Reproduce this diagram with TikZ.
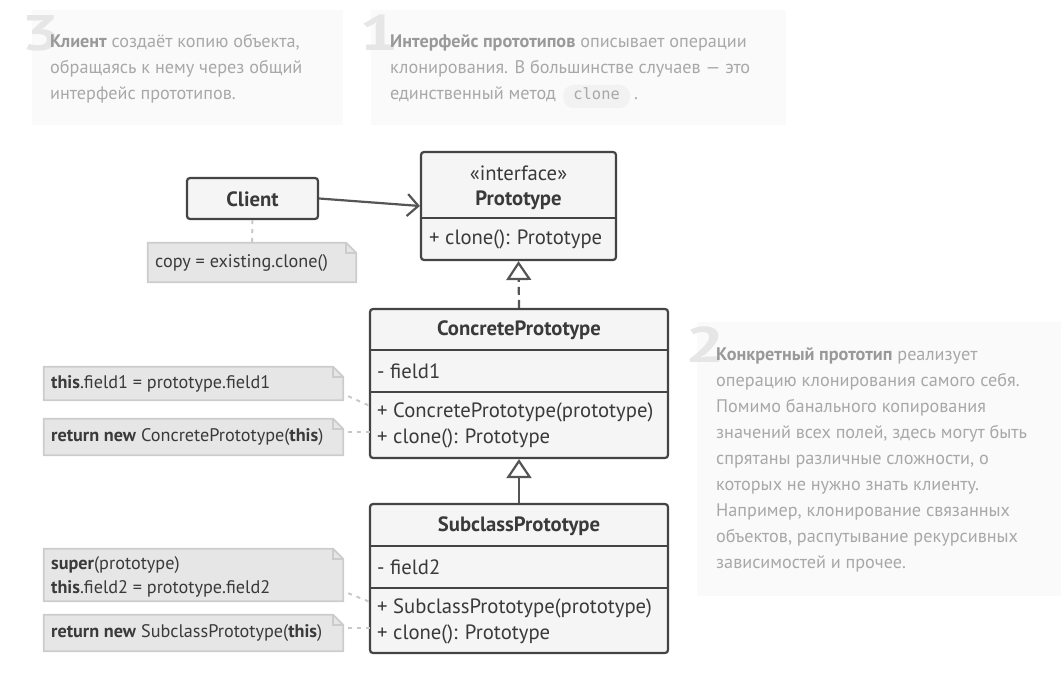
\documentclass[tikz,border=0pt]{standalone}
\usepackage{fontspec}
\setmainfont{PT Sans}
\newfontfamily\monofont{DejaVu Sans Mono}
\usetikzlibrary{arrows.meta,calc}
\definecolor{dk}{HTML}{444444}
\definecolor{txt}{HTML}{3A3A3A}
\definecolor{ln}{HTML}{555555}
\definecolor{boxfill}{HTML}{F5F5F5}
\definecolor{notefill}{HTML}{E6E6E6}
\definecolor{noteline}{HTML}{CCCCCC}
\definecolor{cmtfill}{HTML}{FAFAFA}
\definecolor{cmttext}{HTML}{A8A8A8}
\definecolor{cmtbold}{HTML}{999999}
\definecolor{numcol}{HTML}{E6E6E6}
\definecolor{codebg}{HTML}{F2F2F2}
\definecolor{dots}{HTML}{C8C8C8}
\tikzset{
  umlbox/.style={draw=dk, fill=boxfill, line width=2.2pt, rounded corners=3pt, inner sep=0pt},
  divline/.style={draw=dk, line width=2.2pt},
  umltxt/.style={inner sep=0pt, text=txt, font=\fontsize{20.7}{24}\selectfont},
  umlbold/.style={umltxt, font=\fontsize{20.7}{24}\selectfont\bfseries},
  notebox/.style={fill=notefill, draw=noteline, line width=1.8pt},
  notetxt/.style={inner sep=0pt, text=txt, font=\fontsize{18.2}{24}\selectfont, align=left},
  dotline/.style={draw=dots, line width=2pt, dash pattern=on 4pt off 5pt},
  cmtbox/.style={fill=cmtfill, draw=none},
  cmttxt/.style={inner sep=0pt, text=cmttext, font=\fontsize{18.2}{26}\selectfont, anchor=base west},
  bignum/.style={inner sep=0pt, text=numcol, font=\fontsize{50}{50}\selectfont\bfseries, anchor=north west},
}
\newcommand{\cb}[1]{\textcolor{cmtbold}{\textbf{#1}}}
\begin{document}
\begin{tikzpicture}[x=1pt,y=-1pt]
\useasboundingbox (0,0) rectangle (1061,674);
% ---------- comment boxes ----------
\fill[cmtbox] (32,10) rectangle (343,125);
\node[bignum] (num3) at (21,15) {\scalebox{1.4}[1]{3}};
\foreach \t [count=\i] in {{\cb{Клиент} создаёт копию объекта,},{обращаясь к нему через общий},{интерфейс прототипов.}}
  \node[cmttxt] (c3-\i) at (50,{48+26*(\i-1)}) {\t};
\fill[cmtbox] (371,10) rectangle (786,125);
\node[bignum] (num1) at (359,15) {\scalebox{1.4}[1]{1}};
\node[cmttxt] (c1-1) at (390,48) {\cb{Интерфейс прототипов} описывает операции};
\node[cmttxt] (c1-2) at (390,74) {клонирования. В большинстве случаев — это};
\node[cmttxt] (c1-3) at (390,100) {единственный метод};
\node[cmttxt, fill=codebg, rounded corners=10pt, inner xsep=10pt, inner ysep=0pt, text height=15pt, text depth=8pt, font=\monofont\fontsize{15.4}{16}\selectfont, text=cmttext] (code) at ($(c1-3.base east)+(7pt,0)$) {clone};
\node[cmttxt] (c1-4) at ($(code.base east)+(4pt,0)$) {.};
\fill[cmtbox] (697,322) rectangle (1061,596);
\node[bignum] (num2) at (685,327) {\scalebox{1.4}[1]{2}};
\foreach \t [count=\i] in {{\cb{Конкретный прототип} реализует},{операцию клонирования самого себя.},{Помимо банального копирования},{значений всех полей, здесь могут быть},{спрятаны различные сложности, о},{которых не нужно знать клиенту.},{Например, клонирование связанных},{объектов, распутывание рекурсивных},{зависимостей и прочее.}}
  \node[cmttxt] (c2-\i) at (716,{360+26.1*(\i-1)}) {\t};
% ---------- Client ----------
\node[umlbox, minimum width=131pt, minimum height=41pt] (client) at (252.5,198.5) {};
\node[umlbold] (clientt) at (252.5,199) {Client};
% ---------- Prototype ----------
\node[umlbox, minimum width=195pt, minimum height=108pt] (proto) at (518.5,206) {};
\draw[divline] (421,218) -- (616,218);
\node[umltxt] (proto1) at (518.5,173) {«interface»};
\node[umlbold] (proto2) at (518.5,200) {Prototype};
\node[umltxt, anchor=west] (proto3) at (429,239.5) {+ clone(): Prototype};
% ---------- ConcretePrototype ----------
\node[umlbox, minimum width=298pt, minimum height=149pt] (cp) at (519,383.5) {};
\draw[divline] (370,350) -- (668,350);
\draw[divline] (370,392) -- (668,392);
\node[umlbold] (cp1) at (519,330) {ConcretePrototype};
\node[umltxt, anchor=west] (cp2) at (377,371.5) {- field1};
\node[umltxt, anchor=west] (cp3) at (377,412.5) {+ ConcretePrototype(prototype)};
\node[umltxt, anchor=west] (cp4) at (377,438.5) {+ clone(): Prototype};
% ---------- SubclassPrototype ----------
\node[umlbox, minimum width=298pt, minimum height=149pt] (sp) at (519,578.5) {};
\draw[divline] (370,546) -- (668,546);
\draw[divline] (370,588) -- (668,588);
\node[umlbold] (sp1) at (519,526) {SubclassPrototype};
\node[umltxt, anchor=west] (sp2) at (377,567) {- field2};
\node[umltxt, anchor=west] (sp3) at (377,608.5) {+ SubclassPrototype(prototype)};
\node[umltxt, anchor=west] (sp4) at (377,634.5) {+ clone(): Prototype};
% ---------- connectors ----------
\draw[ln, line width=2.2pt, -{Straight Barb[length=11pt,width=22pt,line width=2.2pt]}] (client.east) -- (proto.west);
\draw[ln, line width=2.2pt, dash pattern=on 8pt off 5pt, -{Triangle[open,length=19pt,width=25pt,line width=2.2pt,fill=white]}] (cp.north) -- (proto.south);
\draw[ln, line width=2.2pt, -{Triangle[open,length=19pt,width=25pt,line width=2.2pt,fill=white]}] (sp.north) -- (cp.south);
% ---------- notes ----------
\node[inner sep=0pt, minimum width=208pt, minimum height=39pt] (n0) at (252,262.5) {};
\draw[notebox] (n0.north west) -- ($(n0.north east)+(-10pt,0)$) -- ($(n0.north east)+(0,-10pt)$) -- (n0.south east) -- (n0.south west) -- cycle;
\draw[noteline, line width=1.5pt] ($(n0.north east)+(-10pt,0)$) |- ($(n0.north east)+(0,-10pt)$);
\node[notetxt, anchor=west] (n0t) at (155,263.5) {copy = existing.clone()};
\draw[dotline] (client.south) -- (n0.north);
\node[inner sep=0pt, minimum width=299pt, minimum height=33pt] (n1) at (193.5,383.5) {};
\draw[notebox] (n1.north west) -- ($(n1.north east)+(-10pt,0)$) -- ($(n1.north east)+(0,-10pt)$) -- (n1.south east) -- (n1.south west) -- cycle;
\draw[noteline, line width=1.5pt] ($(n1.north east)+(-10pt,0)$) |- ($(n1.north east)+(0,-10pt)$);
\node[notetxt, anchor=west] (n1t) at (51,383.5) {\textbf{this}.field1 = prototype.field1};
\node[inner sep=0pt, minimum width=299pt, minimum height=36pt] (n2) at (193.5,437) {};
\draw[notebox] (n2.north west) -- ($(n2.north east)+(-10pt,0)$) -- ($(n2.north east)+(0,-10pt)$) -- (n2.south east) -- (n2.south west) -- cycle;
\draw[noteline, line width=1.5pt] ($(n2.north east)+(-10pt,0)$) |- ($(n2.north east)+(0,-10pt)$);
\node[notetxt, anchor=west] (n2t) at (51,437.5) {\textbf{return new} ConcretePrototype(\textbf{this})};
\node[inner sep=0pt, minimum width=299pt, minimum height=52pt] (n3) at (193.5,575) {};
\draw[notebox] (n3.north west) -- ($(n3.north east)+(-10pt,0)$) -- ($(n3.north east)+(0,-10pt)$) -- (n3.south east) -- (n3.south west) -- cycle;
\draw[noteline, line width=1.5pt] ($(n3.north east)+(-10pt,0)$) |- ($(n3.north east)+(0,-10pt)$);
\node[notetxt, anchor=west] (n3t) at (51,577) {\textbf{super}(prototype)\\\textbf{this}.field2 = prototype.field2};
\node[inner sep=0pt, minimum width=299pt, minimum height=36pt] (n4) at (193.5,633) {};
\draw[notebox] (n4.north west) -- ($(n4.north east)+(-10pt,0)$) -- ($(n4.north east)+(0,-10pt)$) -- (n4.south east) -- (n4.south west) -- cycle;
\draw[noteline, line width=1.5pt] ($(n4.north east)+(-10pt,0)$) |- ($(n4.north east)+(0,-10pt)$);
\node[notetxt, anchor=west] (n4t) at (51,633.5) {\textbf{return new} SubclassPrototype(\textbf{this})};
\coordinate (cpA) at (370,406);
\coordinate (cpB) at (370,432);
\coordinate (spA) at (370,602);
\coordinate (spB) at (370,628);
\draw[dotline] ($(n1.south east)+(5pt,4pt)$) -- (cpA);
\draw[dotline] ($(n2.east)+(5pt,5pt)$) -- (cpB);
\draw[dotline] ($(n3.south east)+(5pt,8pt)$) -- (spA);
\draw[dotline] ($(n4.east)+(5pt,5pt)$) -- (spB);
\end{tikzpicture}
\end{document}
